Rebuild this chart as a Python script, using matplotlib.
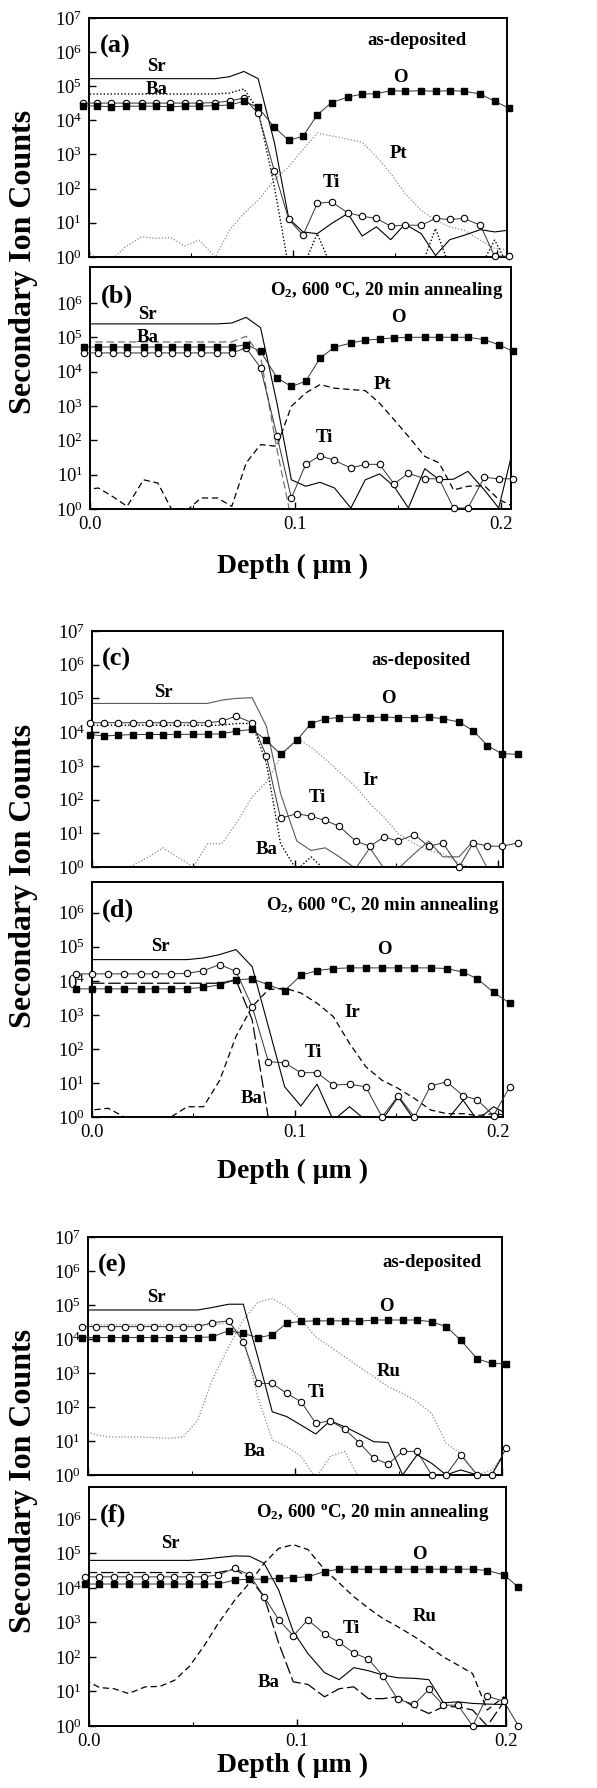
import matplotlib
matplotlib.use('Agg')
import matplotlib.pyplot as plt
import numpy as np
from matplotlib.ticker import FixedLocator, NullLocator, FuncFormatter

plt.rcParams['font.family'] = 'Liberation Serif'
plt.rcParams['mathtext.fontset'] = 'custom'
plt.rcParams['mathtext.rm'] = 'Liberation Serif'
plt.rcParams['mathtext.it'] = 'Liberation Serif:italic'
plt.rcParams['mathtext.bf'] = 'Liberation Serif:bold'

# SIMS depth profiles of BST films on Pt, Ir and Ru electrodes
# depth in um, counts per species

# --- Pt electrode: (a) as-deposited, (b) annealed ---
depth_ab = [-0.003, 0.004, 0.011, 0.018, 0.026, 0.033, 0.040, 0.047, 0.054, 0.062,
            0.069, 0.076, 0.083, 0.091, 0.098, 0.105, 0.112, 0.119, 0.127, 0.134,
            0.141, 0.148, 0.155, 0.163, 0.170, 0.177, 0.184, 0.192, 0.199, 0.206]

a_O = [2.7e4, 2.6e4, 2.5e4, 2.6e4, 2.6e4, 2.6e4, 2.5e4, 2.6e4, 2.6e4, 2.7e4,
       2.8e4, 3.6e4, 2.4e4, 6.2e3, 2.6e3, 3.4e3, 1.45e4, 3.3e4, 4.8e4, 5.9e4,
       6.0e4, 7.4e4, 7.1e4, 7.4e4, 7.1e4, 7.4e4, 7.1e4, 5.9e4, 3.6e4, 2.3e4]
a_Ti = [3.2e4, 3.2e4, 3.2e4, 3.2e4, 3.2e4, 3.2e4, 3.2e4, 3.2e4, 3.2e4, 3.3e4,
        3.7e4, 4.5e4, 1.6e4, 320, 12.5, 4.3, 37, 41, 19.6, 15.6,
        13.4, 8, 8.5, 8.5, 13.4, 12.5, 13.4, 8.5, 1.05, 1.05]
a_Sr = [1.66e5, 1.66e5, 1.66e5, 1.66e5, 1.66e5, 1.66e5, 1.66e5, 1.66e5, 1.66e5, 1.66e5,
        1.9e5, 2.7e5, 1.66e5, 2.2e3, 13.4, 5.4, 4.8, 9.5, 18.8, 4.1,
        7.6, 3.2, 9.1, 4.8, 1.1, 3.2, 4.3, 6.3, 5.4, 6.1]
a_Ba = [5.9e4, 5.9e4, 5.9e4, 5.9e4, 5.9e4, 5.9e4, 5.9e4, 5.9e4, 5.9e4, 5.9e4,
        6.3e4, 8.3e4, 2.0e4, 110, 0.5, 0.5, 4.8, 0.5, 0.5, 0.5,
        0.5, 0.5, 0.5, 0.5, 6.8, 0.5, 0.5, 0.5, 3.1, 0.5]
a_Pt = [1.8, 0.9, 0.8, 2.0, 3.9, 3.5, 3.7, 2.1, 3.1, 1.0,
        6.1, 18.8, 46, 180, 440, 1.4e3, 4.2e3, 3.5e3, 2.8e3, 2.3e3,
        870, 280, 73, 23, 12, 7.6, 6.1, 3.1, 1.8, 1.6]

b_O = [5.2e4, 5.2e4, 5.2e4, 5.2e4, 5.2e4, 5.2e4, 5.2e4, 5.2e4, 5.2e4, 5.2e4,
       5.2e4, 6.1e4, 3.9e4, 6.6e3, 3.7e3, 5.2e3, 2.5e4, 5.1e4, 6.8e4, 8.2e4,
       8.9e4, 9.6e4, 1.0e5, 1.0e5, 1.0e5, 1.0e5, 1.0e5, 8.5e4, 6.1e4, 3.9e4]
b_Ti = [3.5e4, 3.5e4, 3.5e4, 3.5e4, 3.5e4, 3.5e4, 3.5e4, 3.5e4, 3.5e4, 3.5e4,
        3.5e4, 4.9e4, 1.3e4, 137, 2.1, 20, 36, 26, 15.6, 20,
        20, 5.4, 11, 7.6, 7.6, 1.07, 1.07, 8.4, 7.6, 7.6]
b_Sr = [2.45e5, 2.45e5, 2.45e5, 2.45e5, 2.45e5, 2.45e5, 2.45e5, 2.45e5, 2.45e5, 2.45e5,
        2.6e5, 3.8e5, 1.9e5, 1.2e3, 7.1, 4.6, 6.0, 4.1, 1.07, 7.1,
        10.5, 4.6, 1.07, 15, 7.1, 7.4, 12.5, 3.6, 1.07, 56]
b_Ba = [7.3e4, 7.3e4, 7.3e4, 7.3e4, 7.3e4, 7.3e4, 7.3e4, 7.3e4, 7.3e4, 7.3e4,
        7.3e4, 1.07e5, 2.8e4, 54, 0.5, 0.5, 0.5, 0.5, 0.5, 0.5,
        0.5, 0.5, 0.5, 0.5, 0.5, 0.5, 0.5, 0.5, 0.5, 0.5]
b_Pt = [3.6, 4.1, 2.3, 1.2, 7.1, 5.7, 0.9, 0.9, 2.1, 2.1,
        1.2, 22, 75, 67, 980, 2.4e3, 4.2e3, 3.3e3, 3.0e3, 2.8e3,
        1.2e3, 400, 130, 34, 22, 3.6, 4.6, 4.8, 1.9, 1.2]

# --- Ir electrode: (c) as-deposited, (d) annealed ---
depth_c = [-0.001, 0.006, 0.013, 0.020, 0.028, 0.035, 0.042, 0.050, 0.057, 0.064,
           0.071, 0.079, 0.086, 0.093, 0.101, 0.108, 0.115, 0.122, 0.130, 0.137,
           0.144, 0.151, 0.159, 0.166, 0.173, 0.181, 0.188, 0.195, 0.202, 0.210]

c_O = [8.5e3, 7.7e3, 8.1e3, 8.5e3, 8.5e3, 8.5e3, 8.6e3, 8.6e3, 8.7e3, 8.9e3,
       1.07e4, 1.2e4, 5.7e3, 2.2e3, 5.7e3, 1.8e4, 2.5e4, 2.7e4, 2.8e4, 2.7e4,
       2.8e4, 2.7e4, 2.7e4, 2.8e4, 2.5e4, 2.0e4, 1.1e4, 4.0e3, 2.3e3, 2.2e3]
c_Ti = [1.9e4, 1.9e4, 1.9e4, 1.9e4, 1.9e4, 1.9e4, 1.9e4, 1.9e4, 1.9e4, 2.1e4,
        3.0e4, 1.9e4, 2.0e3, 28, 38, 32, 24, 16, 5.9, 4.1,
        7.8, 5.9, 9.1, 4.1, 5.2, 1.0, 5.2, 4.2, 4.1, 5.2]
c_Sr = [7.1e4, 7.1e4, 7.1e4, 7.1e4, 7.1e4, 7.1e4, 7.1e4, 7.1e4, 7.1e4, 8.9e4,
        1.0e5, 1.05e5, 1.5e4, 150, 5.9, 3.1, 3.7, 2.0, 0.9, 3.7,
        0.9, 0.9, 2.5, 5.9, 2.0, 2.0, 5.9, 0.9, 0.9, 5.9]
c_Ba = [1.6e4, 1.6e4, 1.6e4, 1.6e4, 1.6e4, 1.6e4, 1.6e4, 1.6e4, 1.6e4, 1.6e4,
        1.8e4, 1.8e4, 1.2e3, 4.9, 0.8, 2.0, 0.8, 0.5, 0.5, 0.5,
        0.5, 0.5, 0.5, 0.5, 0.5, 0.5, 0.5, 0.5, 0.5, 0.5]
c_Ir = [1.1, 0.9, 0.9, 1.1, 2.0, 3.7, 2.0, 1.0, 4.9, 4.9,
        19, 120, 330, 1.8e3, 6.5e3, 3.6e3, 1.6e3, 660, 240, 76,
        30, 9.8, 4.9, 3.1, 2.5, 1.3, 0.9, 0.9, 0.9, 0.9]

depth_d = [-0.008, 0.000, 0.008, 0.016, 0.024, 0.031, 0.039, 0.047, 0.055, 0.063,
           0.071, 0.079, 0.087, 0.095, 0.103, 0.111, 0.119, 0.127, 0.135, 0.143,
           0.151, 0.159, 0.167, 0.175, 0.183, 0.190, 0.198, 0.206]

d_O = [5.8e3, 5.8e3, 5.8e3, 5.8e3, 5.8e3, 5.8e3, 5.8e3, 5.9e3, 6.4e3, 7.6e3,
       1.07e4, 1.15e4, 7.6e3, 5.1e3, 1.45e4, 2.0e4, 2.3e4, 2.4e4, 2.4e4, 2.4e4,
       2.4e4, 2.4e4, 2.4e4, 2.3e4, 1.8e4, 1.15e4, 4.6e3, 2.2e3]
d_Ti = [1.6e4, 1.6e4, 1.6e4, 1.6e4, 1.6e4, 1.6e4, 1.6e4, 1.65e4, 2.0e4, 3.0e4,
        1.9e4, 1.75e3, 42, 39, 20, 20, 8.6, 9.2, 7.7, 1.0,
        4.2, 1.0, 8.2, 10.8, 4.2, 3.2, 1.1, 7.7]
d_Sr = [4.2e4, 4.2e4, 4.2e4, 4.2e4, 4.2e4, 4.2e4, 4.2e4, 4.2e4, 4.7e4, 5.9e4,
        8.3e4, 2.6e4, 450, 7.7, 2.1, 9.2, 0.8, 2.0, 0.8, 0.8,
        3.9, 0.8, 0.8, 0.8, 3.1, 0.8, 2.0, 1.1]
d_Ba = [8.5e3, 8.5e3, 8.5e3, 8.5e3, 8.5e3, 8.5e3, 8.5e3, 8.5e3, 8.5e3, 8.5e3,
        1.07e4, 710, 0.9, 0.5, 0.5, 0.5, 0.5, 0.5, 0.5, 0.5,
        0.5, 0.5, 0.5, 0.5, 0.5, 0.5, 0.5, 0.5]
d_Ir = [2.5, 1.6, 1.8, 1.0, 0.8, 0.8, 1.0, 2.0, 2.0, 12,
        230, 1.75e3, 5.5e3, 6.1e3, 4.4e3, 2.2e3, 890, 145, 30, 12,
        6.9, 3.5, 1.6, 1.25, 1.25, 1.1, 1.25, 1.1]

# --- Ru electrode: (e) as-deposited, (f) annealed ---
depth_e = [-0.003, 0.004, 0.011, 0.018, 0.025, 0.032, 0.039, 0.046, 0.053, 0.060,
           0.068, 0.075, 0.082, 0.089, 0.096, 0.103, 0.110, 0.117, 0.124, 0.131,
           0.138, 0.145, 0.152, 0.159, 0.166, 0.173, 0.180, 0.188, 0.195, 0.202]

e_O = [1.1e4, 1.1e4, 1.1e4, 1.1e4, 1.1e4, 1.1e4, 1.1e4, 1.1e4, 1.1e4, 1.15e4,
       1.75e4, 1.45e4, 1.1e4, 1.3e4, 2.9e4, 3.3e4, 3.4e4, 3.4e4, 3.4e4, 3.3e4,
       3.6e4, 3.6e4, 3.6e4, 3.6e4, 3.2e4, 2.3e4, 9.3e3, 2.6e3, 1.9e3, 1.85e3]
e_Ti = [2.3e4, 2.3e4, 2.3e4, 2.3e4, 2.3e4, 2.3e4, 2.3e4, 2.3e4, 2.3e4, 3.0e4,
        3.4e4, 8.3e3, 490, 490, 250, 142, 33, 39, 22, 8.9,
        3.1, 2.1, 4.9, 4.9, 1.0, 1.0, 3.9, 1.0, 1.0, 6.1]
e_Sr = [7.1e4, 7.1e4, 7.1e4, 7.1e4, 7.1e4, 7.1e4, 7.1e4, 7.1e4, 7.1e4, 8.4e4,
        1.05e5, 1.05e5, 3.0e3, 72, 52, 29, 16, 39, 26, 16,
        9.5, 9.0, 1.0, 3.9, 2.2, 1.0, 1.4, 1.0, 1.0, 5.4]
e_Ba = [2.6e4, 2.6e4, 2.6e4, 2.6e4, 2.6e4, 2.6e4, 2.6e4, 2.6e4, 2.6e4, 2.6e4,
        3.0e4, 1.15e4, 200, 10.7, 6.8, 3.5, 0.8, 3.5, 4.9, 0.8,
        0.5, 0.5, 0.5, 0.5, 0.5, 0.5, 0.5, 0.5, 0.5, 0.5]
e_Ru = [21, 15, 13, 13, 13, 12.5, 12, 13, 41, 620,
        5.9e3, 3.6e4, 1.2e5, 1.55e5, 8.9e4, 3.6e4, 1.15e4, 5.9e3, 3.0e3, 1.5e3,
        780, 390, 250, 142, 65, 8.5, 4.3, 1.0, 1.4, 4.3]

depth_f = [-0.002, 0.005, 0.012, 0.019, 0.027, 0.034, 0.041, 0.048, 0.055, 0.062,
           0.070, 0.077, 0.084, 0.091, 0.098, 0.105, 0.113, 0.120, 0.127, 0.134,
           0.141, 0.148, 0.156, 0.163, 0.170, 0.177, 0.184, 0.191, 0.199, 0.206]

f_O = [1.3e4, 1.3e4, 1.3e4, 1.3e4, 1.3e4, 1.3e4, 1.3e4, 1.3e4, 1.3e4, 1.3e4,
       1.7e4, 1.8e4, 1.8e4, 1.9e4, 2.0e4, 2.1e4, 3.0e4, 3.5e4, 3.5e4, 3.5e4,
       3.5e4, 3.5e4, 3.5e4, 3.5e4, 3.5e4, 3.5e4, 3.5e4, 3.2e4, 2.4e4, 1.05e4]
f_Ti = [2.1e4, 2.1e4, 2.1e4, 2.1e4, 2.1e4, 2.1e4, 2.1e4, 2.1e4, 2.1e4, 2.4e4,
        3.7e4, 2.4e4, 5.6e3, 1.2e3, 410, 1.2e3, 460, 265, 130, 87,
        28, 6.0, 4.2, 11.4, 4.0, 4.0, 1.0, 7.3, 5.2, 1.0]
f_Sr = [6.3e4, 6.3e4, 6.3e4, 6.3e4, 6.3e4, 6.3e4, 6.3e4, 6.3e4, 6.8e4, 7.6e4,
        8.5e4, 8.3e4, 5.2e4, 8.7e3, 540, 126, 35, 22, 49, 40,
        30, 25, 24, 22, 4.7, 5.0, 4.5, 4.3, 4.2, 4.0]
f_Ba = [2.8e4, 2.8e4, 2.8e4, 2.8e4, 2.8e4, 2.8e4, 2.8e4, 2.8e4, 2.8e4, 2.8e4,
        3.5e4, 1.9e4, 5.6e3, 250, 19, 16, 7.0, 12, 13.6, 6.2,
        6.2, 7.0, 3.6, 2.3, 3.6, 3.6, 2.9, 1.0, 5.0, 1.5]
f_Ru = [22, 13, 12, 8.7, 13.6, 14, 21, 52, 200, 940,
        4.5e3, 1.4e4, 5.2e4, 1.4e5, 1.8e5, 1.3e5, 3.4e4, 1.4e4, 5.6e3, 2.6e3,
        1.3e3, 760, 390, 200, 100, 58, 33, 2.9, 7.0, 1.2]

ANNEAL = r'O$_\mathbf{2}$, 600 $^\mathbf{o}$C, 20 min annealing'

dotted_black = dict(color='black', lw=1.0, ls=(0, (1, 1.5)))
dotted_gray = dict(color='0.55', lw=0.9, ls=(0, (1, 1.5)))
dashed_black = dict(color='black', lw=0.9, ls=(0, (5, 3)))
dashed_gray = dict(color='0.45', lw=0.9, ls=(0, (6, 3)))
longdash_black = dict(color='black', lw=0.9, ls=(0, (10, 3)))


def log_label(v, pos):
    return r'$10^{%d}$' % int(round(np.log10(v)))


def draw_panel(fig, rect, depth, o, ti, sr, ba, sub, ba_style, sub_style,
               xmax, ymax, top, letter, cond, cond_xy, labels, sr_color='black'):
    ax = fig.add_axes(rect)
    ax.plot(depth, sub, **sub_style)
    ax.plot(depth, ba, **ba_style)
    ax.plot(depth, sr, color=sr_color, lw=0.8)
    ax.plot(depth, ti, color='0.2', lw=0.7, marker='o', ms=4.6,
            mfc='white', mec='black', mew=0.8, clip_on=False, zorder=4)
    ax.plot(depth, o, color='0.2', lw=0.7, marker='s', ms=3.8,
            mfc='black', mec='black', clip_on=False, zorder=5)
    ax.set_yscale('log')
    ax.set_xlim(0, xmax)
    ax.set_ylim(1, ymax)

    kmax = 7 if top else 6
    ax.yaxis.set_major_locator(FixedLocator([10.0 ** k for k in range(0, kmax + 1)]))
    ax.yaxis.set_minor_locator(NullLocator())
    ax.yaxis.set_major_formatter(FuncFormatter(log_label))
    ax.xaxis.set_major_locator(FixedLocator([0.0, 0.1, 0.2]))
    ax.xaxis.set_minor_locator(FixedLocator([0.05, 0.15]))
    ax.xaxis.set_major_formatter(FuncFormatter(lambda v, p: '%.1f' % v))
    ax.tick_params(which='major', direction='in', length=5, width=1.0,
                   labelsize=13.5, pad=5)
    ax.tick_params(which='minor', direction='in', length=3, width=0.8)
    ax.tick_params(axis='x', labelbottom=not top)
    for s in ax.spines.values():
        s.set_linewidth(1.4)

    ax.text(0.025, 0.88, letter, transform=ax.transAxes, fontsize=19,
            fontweight='bold', ha='left', va='center')
    ax.text(cond_xy[0], cond_xy[1], cond, transform=ax.transAxes,
            fontsize=13.5, fontweight='bold', ha='center', va='center')
    for name, x, y in labels:
        ax.text(x, y, name, fontsize=13.5, fontweight='bold',
                ha='center', va='center')
    return ax


fig = plt.figure(figsize=(5.97, 17.88), dpi=100)

draw_panel(fig, [0.149, 0.8563, 0.700, 0.1337], depth_ab, a_O, a_Ti, a_Sr, a_Ba, a_Pt,
           dotted_black, dotted_gray, 0.205, 1e7, True, '(a)', 'as-deposited', (0.785, 0.905),
           [('Sr', 0.033, 3.7e5), ('Ba', 0.033, 8.0e4), ('O', 0.153, 1.8e5),
            ('Pt', 0.152, 1.1e3), ('Ti', 0.119, 150)])
draw_panel(fig, [0.151, 0.7153, 0.705, 0.1353], depth_ab, b_O, b_Ti, b_Sr, b_Ba, b_Pt,
           dashed_gray, dashed_black, 0.205, 1.1e7, False, '(b)', ANNEAL, (0.705, 0.905),
           [('Sr', 0.028, 4.6e5), ('Ba', 0.028, 1.0e5), ('O', 0.150, 3.7e5),
            ('Pt', 0.1425, 4.2e3), ('Ti', 0.114, 120)])

draw_panel(fig, [0.154, 0.5151, 0.688, 0.1320], depth_c, c_O, c_Ti, c_Sr, c_Ba, c_Ir,
           dotted_black, dotted_gray, 0.2025, 1e7, True, '(c)', 'as-deposited', (0.80, 0.877),
           [('Sr', 0.035, 1.55e5), ('O', 0.146, 1.0e5), ('Ir', 0.137, 380),
            ('Ti', 0.111, 112), ('Ba', 0.086, 3.2)], sr_color='0.35')
draw_panel(fig, [0.154, 0.3753, 0.688, 0.1314], depth_d, d_O, d_Ti, d_Sr, d_Ba, d_Ir,
           longdash_black, dashed_black, 0.2025, 8e6, False, '(d)', ANNEAL, (0.708, 0.90),
           [('Sr', 0.0335, 1.0e5), ('O', 0.144, 8.1e4), ('Ir', 0.1285, 1.2e3),
            ('Ti', 0.109, 76), ('Ba', 0.0787, 3.6)])

draw_panel(fig, [0.1474, 0.1751, 0.6935, 0.1331], depth_e, e_O, e_Ti, e_Sr, e_Ba, e_Ru,
           dotted_gray, dotted_gray, 0.2, 1e7, True, '(e)', 'as-deposited', (0.83, 0.893),
           [('Sr', 0.0332, 1.6e5), ('O', 0.144, 8.7e4), ('Ru', 0.145, 1.07e3),
            ('Ti', 0.1105, 260), ('Ba', 0.0807, 4.8)])
draw_panel(fig, [0.149, 0.0347, 0.6985, 0.1337], depth_f, f_O, f_Ti, f_Sr, f_Ba, f_Ru,
           longdash_black, dashed_black, 0.2, 8.5e6, False, '(f)', ANNEAL, (0.68, 0.895),
           [('Sr', 0.039, 2.0e5), ('O', 0.1585, 9.1e4), ('Ru', 0.161, 1.45e3),
            ('Ti', 0.126, 690), ('Ba', 0.0863, 17.8)])

# shared axis titles for each electrode pair
for ylab_y, xlab_y in [(0.8535, 0.683), (0.510, 0.345), (0.1717, 0.0125)]:
    fig.text(0.040, ylab_y, 'Secondary Ion Counts', rotation=90, fontsize=23,
             fontweight='bold', ha='center', va='center')
    fig.text(0.49, xlab_y, 'Depth ( \u03bcm )', fontsize=20,
             fontweight='bold', ha='center', va='center')

fig.savefig('out.png', dpi=100, facecolor='white')
